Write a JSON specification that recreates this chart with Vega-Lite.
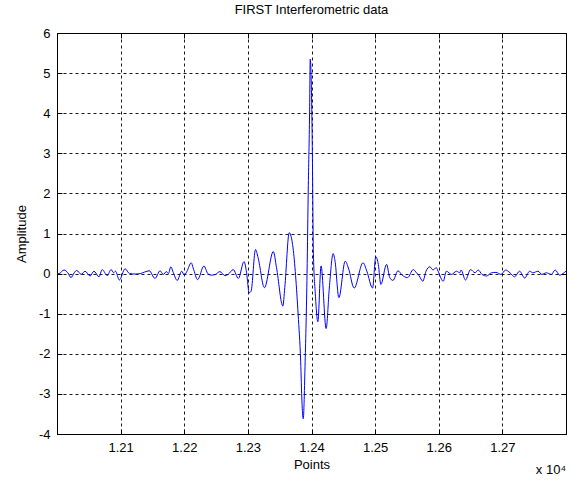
{
  "$schema": "https://vega.github.io/schema/vega-lite/v6.json",
  "autosize": {"type": "none"},
  "padding": {"left": 57, "top": 33, "right": 5, "bottom": 46},
  "width": 509,
  "height": 401,
  "background": "white",
  "title": {"text": "FIRST Interferometric data", "font": "Liberation Sans", "fontSize": 13, "fontWeight": "normal", "color": "black", "offset": 10, "anchor": "middle"},
  "config": {
    "view": {"stroke": "black", "strokeWidth": 1},
    "axis": {"labelFont": "Liberation Sans", "titleFont": "Liberation Sans", "labelFontSize": 13, "titleFontSize": 13, "titleFontWeight": "normal", "labelColor": "black", "titleColor": "black", "domainColor": "black", "tickColor": "black", "gridColor": "black", "gridDash": [3, 3], "gridOpacity": 0.9}
  },
  "data": {"values": [
    {"p": 12000, "a": 0.0}, {"p": 12003, "a": 0.0}, {"p": 12011, "a": 0.09}, {"p": 12017, "a": 0.02}, {"p": 12022, "a": -0.1},
    {"p": 12027, "a": 0.02}, {"p": 12031, "a": 0.08}, {"p": 12038, "a": -0.02}, {"p": 12044, "a": 0.06}, {"p": 12052, "a": -0.06},
    {"p": 12058, "a": 0.06}, {"p": 12066, "a": -0.08}, {"p": 12071, "a": 0.1}, {"p": 12079, "a": -0.05}, {"p": 12085, "a": 0.1},
    {"p": 12089, "a": 0.02}, {"p": 12092, "a": 0.06}, {"p": 12098, "a": -0.16}, {"p": 12107, "a": 0.12}, {"p": 12114, "a": 0.0},
    {"p": 12123, "a": -0.01}, {"p": 12131, "a": 0.0}, {"p": 12138, "a": 0.04}, {"p": 12145, "a": 0.07}, {"p": 12154, "a": -0.12},
    {"p": 12162, "a": 0.07}, {"p": 12167, "a": -0.02}, {"p": 12172, "a": 0.05}, {"p": 12175, "a": 0.0}, {"p": 12179, "a": 0.17},
    {"p": 12182, "a": 0.06}, {"p": 12189, "a": -0.17}, {"p": 12196, "a": 0.06}, {"p": 12200, "a": -0.04}, {"p": 12204, "a": 0.05},
    {"p": 12211, "a": 0.27}, {"p": 12214, "a": 0.14}, {"p": 12221, "a": -0.15}, {"p": 12231, "a": 0.19}, {"p": 12237, "a": 0.0},
    {"p": 12243, "a": -0.04}, {"p": 12249, "a": -0.02}, {"p": 12256, "a": 0.05}, {"p": 12264, "a": -0.05}, {"p": 12269, "a": -0.02},
    {"p": 12277, "a": 0.1}, {"p": 12285, "a": -0.12}, {"p": 12294, "a": 0.3}, {"p": 12298, "a": 0.02}, {"p": 12302, "a": -0.48},
    {"p": 12305, "a": -0.44}, {"p": 12312, "a": 0.6}, {"p": 12316, "a": 0.4}, {"p": 12326, "a": -0.35}, {"p": 12340, "a": 0.55},
    {"p": 12345, "a": 0.15}, {"p": 12355, "a": -0.81}, {"p": 12358, "a": -0.35}, {"p": 12365, "a": 1.02}, {"p": 12371, "a": 0.64},
    {"p": 12379, "a": -1.02}, {"p": 12383, "a": -2.2}, {"p": 12385, "a": -3.2}, {"p": 12387, "a": -3.62}, {"p": 12390, "a": -2.2},
    {"p": 12393, "a": 0.0}, {"p": 12395, "a": 2.2}, {"p": 12397, "a": 4.0}, {"p": 12398, "a": 5.35}, {"p": 12401, "a": 3.5},
    {"p": 12403, "a": 0.5}, {"p": 12406, "a": -0.5}, {"p": 12410, "a": -1.2}, {"p": 12415, "a": 0.19}, {"p": 12423, "a": -1.37},
    {"p": 12428, "a": -0.36}, {"p": 12434, "a": 0.5}, {"p": 12437, "a": 0.31}, {"p": 12443, "a": -0.6}, {"p": 12453, "a": 0.31},
    {"p": 12458, "a": 0.14}, {"p": 12467, "a": -0.36}, {"p": 12481, "a": 0.27}, {"p": 12487, "a": 0.06}, {"p": 12496, "a": -0.36},
    {"p": 12501, "a": 0.42}, {"p": 12505, "a": 0.23}, {"p": 12509, "a": -0.27}, {"p": 12518, "a": 0.23}, {"p": 12523, "a": -0.1},
    {"p": 12528, "a": -0.17}, {"p": 12536, "a": 0.07}, {"p": 12542, "a": -0.03}, {"p": 12551, "a": -0.1}, {"p": 12560, "a": 0.1},
    {"p": 12565, "a": 0.02}, {"p": 12569, "a": -0.05}, {"p": 12575, "a": -0.19}, {"p": 12580, "a": 0.06}, {"p": 12586, "a": 0.17},
    {"p": 12591, "a": 0.09}, {"p": 12596, "a": 0.15}, {"p": 12600, "a": 0.02}, {"p": 12607, "a": -0.19}, {"p": 12612, "a": 0.06},
    {"p": 12620, "a": -0.02}, {"p": 12628, "a": 0.06}, {"p": 12633, "a": 0.02}, {"p": 12635, "a": 0.09}, {"p": 12642, "a": -0.16},
    {"p": 12650, "a": 0.1}, {"p": 12657, "a": 0.02}, {"p": 12662, "a": 0.09}, {"p": 12668, "a": -0.02}, {"p": 12675, "a": -0.06},
    {"p": 12683, "a": 0.02}, {"p": 12690, "a": 0.03}, {"p": 12698, "a": -0.02}, {"p": 12705, "a": 0.09}, {"p": 12712, "a": 0.02},
    {"p": 12719, "a": -0.08}, {"p": 12727, "a": 0.06}, {"p": 12735, "a": -0.11}, {"p": 12743, "a": 0.06}, {"p": 12748, "a": 0.02},
    {"p": 12756, "a": 0.06}, {"p": 12762, "a": -0.02}, {"p": 12769, "a": 0.02}, {"p": 12777, "a": -0.02}, {"p": 12783, "a": 0.09},
    {"p": 12790, "a": -0.04}, {"p": 12795, "a": 0.0}, {"p": 12800, "a": 0.06}
  ]},
  "resolve": {"axis": {"x": "independent", "y": "independent"}},
  "layer": [
    {
      "mark": {"type": "line", "color": "#0000ff", "strokeWidth": 1, "clip": true, "interpolate": "monotone"},
      "encoding": {
        "x": {"field": "p", "type": "quantitative", "scale": {"domain": [12000, 12800], "nice": false, "zero": false},
              "axis": {"title": "Points", "values": [12100, 12200, 12300, 12400, 12500, 12600, 12700], "labelExpr": "format(datum.value/10000, '.2f')", "tickSize": -5, "labelPadding": 12, "titlePadding": 4, "grid": true, "domain": true}},
        "y": {"field": "a", "type": "quantitative", "scale": {"domain": [-4, 6], "nice": false, "zero": false},
              "axis": {"title": "Amplitude", "values": [-4, -3, -2, -1, 0, 1, 2, 3, 4, 5, 6], "labelExpr": "datum.value < 0 ? '-' + abs(datum.value) : '' + datum.value", "tickSize": -5, "labelPadding": 12, "titlePadding": 10, "grid": true}}
      }
    },
    {
      "mark": {"type": "line", "opacity": 0},
      "encoding": {
        "x": {"field": "p", "type": "quantitative", "axis": {"orient": "top", "title": null, "labels": false, "values": [12100, 12200, 12300, 12400, 12500, 12600, 12700], "tickSize": -5, "grid": false}},
        "y": {"field": "a", "type": "quantitative", "axis": {"orient": "right", "title": null, "labels": false, "values": [-4, -3, -2, -1, 0, 1, 2, 3, 4, 5, 6], "tickSize": -5, "grid": false}}
      }
    },
    {
      "data": {"values": [{"label": "x 10⁴"}]},
      "mark": {"type": "text", "font": "Liberation Sans", "fontSize": 13, "align": "right", "baseline": "top", "dy": 30, "dx": 0, "color": "black"},
      "encoding": {
        "text": {"field": "label"},
        "x": {"datum": 12800, "type": "quantitative", "axis": null},
        "y": {"datum": -4, "type": "quantitative", "axis": null}
      }
    }
  ]
}
